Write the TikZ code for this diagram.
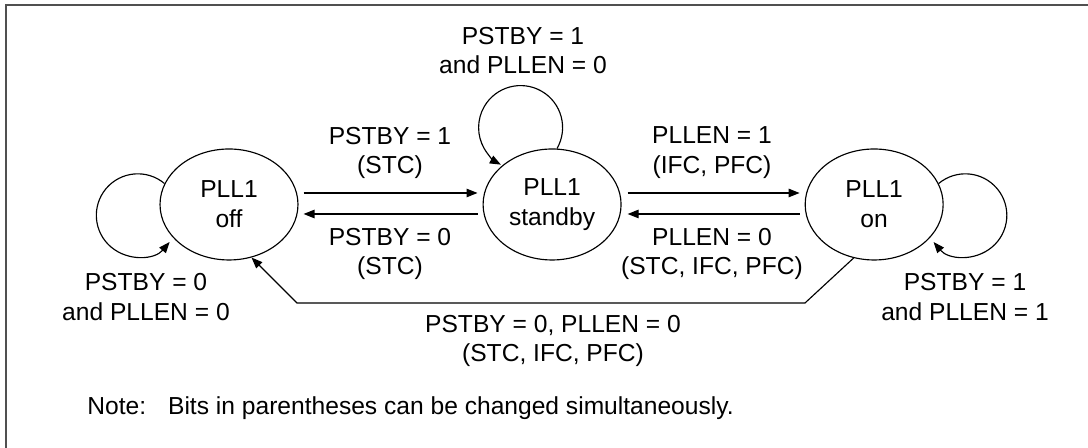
\documentclass[tikz,border=0pt]{standalone}
\usepackage{fontspec}
\setmainfont{Liberation Sans}
\usetikzlibrary{arrows.meta,positioning,shapes.geometric}

\begin{document}
\begin{tikzpicture}[
    x=0.02cm, y=0.02cm,
    font=\fontsize{14}{17}\selectfont,
    >={Triangle[length=0.22cm,width=0.17cm]},
    state/.style={
        draw,
        ellipse,
        minimum width=2.76cm,
        minimum height=2.22cm,
        inner sep=0pt,
        align=center,
        line width=0.65pt
    },
    cond/.style={
        align=center
    },
    link/.style={
        ->,
        line width=0.65pt
    }
]

\definecolor{framegray}{RGB}{80,80,80}

\useasboundingbox (0,0) rectangle (1088,448);
\draw[framegray, line width=0.9pt] (6,0) -- (6,443) -- (1088,443);

\node[state] (off) at (229,243.5) {PLL1\\off};
\node[state, right=3.68cm of off] (standby) {PLL1\\standby};
\node[state, right=3.66cm of standby] (on) {PLL1\\on};

\draw[link] ([xshift=0.1cm,yshift=0.23cm]off.east) -- ([xshift=-0.1cm,yshift=0.23cm]standby.west);
\draw[link] ([xshift=-0.1cm,yshift=-0.19cm]standby.west) -- ([xshift=0.1cm,yshift=-0.19cm]off.east);
\draw[link] ([xshift=0.12cm,yshift=0.23cm]standby.east) -- ([xshift=-0.1cm,yshift=0.23cm]on.west);
\draw[link] ([xshift=-0.1cm,yshift=-0.19cm]on.west) -- ([xshift=0.12cm,yshift=-0.19cm]standby.east);

\draw[link] (off.162) arc[start angle=50, end angle=320, radius=0.83cm];
\draw[link] (standby.85) arc[start angle=-30, end angle=242, radius=0.84cm];
\draw[link] (on.18) arc[start angle=130, end angle=-140, radius=0.83cm];

\coordinate (lowR) at (805,145);
\coordinate (lowL) at (297,145);
\draw[link] (on.249) -- (lowR) -- (lowL) -- (off.293);

\node[cond] (c1) at (390,295) {PSTBY = 1\\(STC)};
\node[cond] (c2) at (390,194) {PSTBY = 0\\(STC)};
\node[cond] (c3) at (712,295) {PLLEN = 1\\(IFC, PFC)};
\node[cond] (c4) at (712,194) {PLLEN = 0\\(STC, IFC, PFC)};
\node[cond] (c5) at (523,397.5) {PSTBY = 1\\and PLLEN = 0};
\node[cond] (c6) at (146,151) {PSTBY = 0\\and PLLEN = 0};
\node[cond] (c7) at (965,151) {PSTBY = 1\\and PLLEN = 1};
\node[cond] (c8) at (553,107) {PSTBY = 0, PLLEN = 0\\(STC, IFC, PFC)};
\node[anchor=west, inner sep=0pt] (note) at (87,40) {Note:\hspace{0.44cm}Bits in parentheses can be changed simultaneously.};

\end{tikzpicture}
\end{document}
